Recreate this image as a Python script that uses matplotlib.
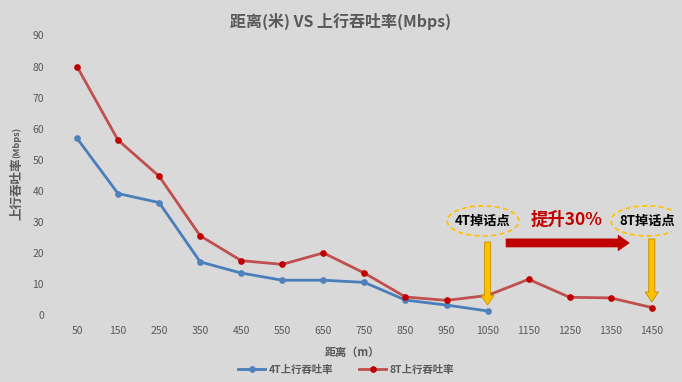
import matplotlib
matplotlib.use("Agg")
import matplotlib.pyplot as plt
from matplotlib.patches import Ellipse, FancyArrow

plt.rcParams['font.family'] = ['Noto Sans CJK SC', 'DejaVu Sans']

distances = ['50', '150', '250', '350', '450', '550', '650', '750', '850', '950',
             '1050', '1150', '1250', '1350', '1450']
tput_4t = [56.9, 39.1, 36.2, 17.1, 13.5, 11.2, 11.2, 10.5, 4.8, 3.2, 1.3]
tput_8t = [80.0, 56.3, 44.7, 25.5, 17.5, 16.3, 20.0, 13.5, 5.8, 4.7, 6.3, 11.5, 5.7, 5.5, 2.4]
series_names = ['4T上行吞吐率', '8T上行吞吐率']
title = '距离(米) VS 上行吞吐率(Mbps)'
x_label = '距离（m）'

BG = '#d9d9d9'
GRAY = '#595959'
fig = plt.figure(figsize=(6.82, 3.82), dpi=100, facecolor=BG)
ax = fig.add_axes([0.0828, 0.1754, 0.903, 0.7317], facecolor=BG)

x4 = list(range(len(tput_4t)))
x8 = list(range(len(tput_8t)))
l1, = ax.plot(x4, tput_4t, color='#4a7ebb', lw=2.0, marker='o', ms=3.8,
              mfc='#4f81bd', mec='#4f81bd', label=series_names[0], zorder=3)
l2, = ax.plot(x8, tput_8t, color='#c0504d', lw=2.0, marker='o', ms=3.8,
              mfc='#c00000', mec='#c00000', label=series_names[1], zorder=3)

ax.set_xlim(-0.5, len(distances) - 0.5)
ax.set_ylim(0, 90)
ax.set_xticks(range(len(distances)))
ax.set_xticklabels(distances)
ax.set_yticks(range(0, 91, 10))
ax.tick_params(axis='both', length=0, labelsize=7.5, colors=GRAY)
ax.tick_params(axis='y', pad=9)
ax.tick_params(axis='x', pad=8)
for s in ax.spines.values():
    s.set_visible(False)

fig.text(0.5, 0.945, title, ha='center', va='center', fontsize=11.5,
         fontweight='bold', color=GRAY)
fig.text(352 / 682, 1 - 352 / 382, x_label, ha='center', va='center',
         fontsize=8, fontweight='bold', color=GRAY)
# y label (two sizes)
fig.text(17 / 682, 1 - 220 / 382, '上行吞吐率', rotation=90, ha='center', va='bottom',
         fontsize=9, fontweight='bold', color=GRAY)
fig.text(17 / 682, 1 - 158 / 382, '(Mbps)', rotation=90, ha='center', va='bottom',
         fontsize=6.5, fontweight='bold', color=GRAY)

leg = fig.legend(handles=[l1, l2], loc='center', bbox_to_anchor=(346 / 682, 1 - 370 / 382),
                 ncol=2, frameon=False, fontsize=7.5, handlelength=2.6,
                 columnspacing=2.5, handletextpad=0.3)
for t in leg.get_texts():
    t.set_color(GRAY)
    t.set_fontweight('bold')

# annotations
for cx, txt in [(9.89, '4T掉话点'), (13.88, '8T掉话点')]:
    ax.add_patch(Ellipse((cx, 30.3), 1.75, 9.7, fill=False, ec='#ffc000',
                         ls=(0, (3, 2)), lw=1.2, zorder=4))
    ax.text(cx, 30.3, txt, ha='center', va='center', fontsize=9.5,
            fontweight='bold', color='black', zorder=5)

ax.text(11.93, 30.6, '提升30%', ha='center', va='center', fontsize=12.5,
        fontweight='bold', color='#c00000', zorder=5)

ax.add_patch(FancyArrow(10.45, 23.2, 3.0, 0, width=2.6, head_width=5.0,
                        head_length=0.27, length_includes_head=True,
                        fc='#c00000', ec='#c00000', lw=0.5, zorder=4))

for ax_x, y0, y1 in [(10.0, 23.5, 3.2), (14.0, 24.5, 4.2)]:
    ax.add_patch(FancyArrow(ax_x, y0, 0, y1 - y0, width=0.15, head_width=0.32,
                            head_length=3.2, length_includes_head=True,
                            fc='#ffc000', ec='#bf9000', lw=0.6, zorder=4))

fig.savefig('out.png', dpi=100, facecolor=BG)
